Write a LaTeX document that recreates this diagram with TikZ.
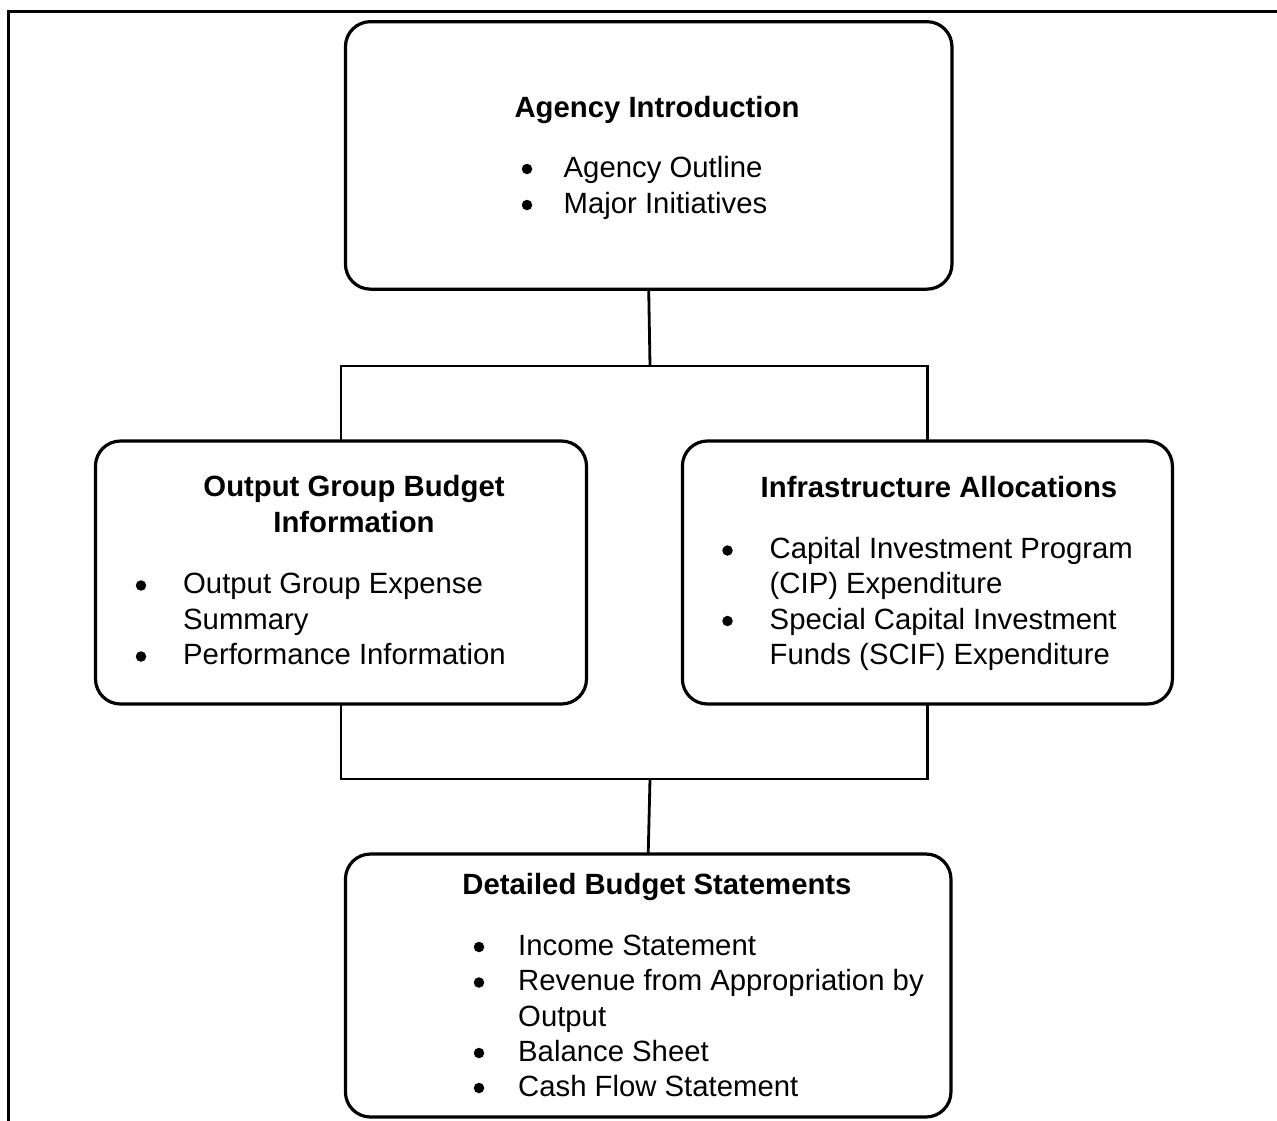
\documentclass[tikz,border=0pt]{standalone}
\usepackage{fontspec}
\setmainfont{Liberation Sans}
\begin{document}
\begin{tikzpicture}[x=1pt,y=-1pt,
  box/.style={draw,line width=3.2pt,rounded corners=25pt,inner sep=0pt,outer sep=0pt},
  link/.style={line width=2.8pt},
  head/.style={anchor=base,inner sep=0pt,font=\fontsize{29.3}{36}\selectfont\bfseries},
  item/.style={anchor=base west,inner sep=0pt,font=\fontsize{29.3}{36}\selectfont},
  dot/.style={circle,fill,inner sep=0pt,minimum size=10.5pt}]
\useasboundingbox (0,0) rectangle (1277,1120);
\begin{scope}
\clip (0,0) rectangle (1277,1120);
\draw[line width=3pt] (1300,11.5) -- (8.5,11.5) -- (8.5,1140);
\end{scope}

% boxes
\node[box,minimum width=606.5pt,minimum height=267.5pt] (intro) at (648.7,155.4) {};
\node[box,minimum width=491pt,minimum height=263pt] (output) at (341,572.5) {};
\node[box,minimum width=490pt,minimum height=263pt] (infra) at (927.4,572.5) {};
\node[box,minimum width=605.5pt,minimum height=263pt] (detail) at (648.2,985.5) {};

% connectors
\coordinate (ja) at (650,366);
\coordinate (jb) at (650,779);
\draw[link] (intro.south) -- (ja);
\draw[link] (output.north) -- (output.north |- ja) -- (infra.north |- ja) -- (infra.north);
\draw[link] (output.south) -- (output.south |- jb) -- (infra.south |- jb) -- (infra.south);
\draw[link] (jb) -- (detail.north);

% Agency Introduction
\node[head] (h1) at (657,117) {Agency Introduction};
\node[dot] (d11) at (527,169) {};
\node[item] (i11) at (563.5,177) {Agency Outline};
\node[dot] (d12) at (527,205) {};
\node[item] (i12) at (563.5,213) {Major Initiatives};

% Output Group Budget Information
\node[head] (h2a) at (354,496.5) {Output Group Budget};
\node[head] (h2b) at (354,532.5) {Information};
\node[dot] (d21) at (141,585.5) {};
\node[item] (i21) at (183,593.5) {Output Group Expense};
\node[item] (i22) at (183,629) {Summary};
\node[dot] (d22) at (141,656.5) {};
\node[item] (i23) at (183,664.5) {Performance Information};

% Infrastructure Allocations
\node[head] (h3) at (939,497) {Infrastructure Allocations};
\node[dot] (d31) at (727.5,550.5) {};
\node[item] (i31) at (769.5,558) {Capital Investment Program};
\node[item] (i32) at (769.5,593.5) {(CIP) Expenditure};
\node[dot] (d32) at (727.5,621) {};
\node[item] (i33) at (769.5,629) {Special Capital Investment};
\node[item] (i34) at (769.5,664) {Funds (SCIF) Expenditure};

% Detailed Budget Statements
\node[head] (h4) at (657,894) {Detailed Budget Statements};
\node[dot] (d41) at (479,947) {};
\node[item] (i41) at (518,955) {Income Statement};
\node[dot] (d42) at (479,982.5) {};
\node[item] (i42) at (518,990.5) {Revenue from Appropriation by};
\node[item] (i43) at (518,1026) {Output};
\node[dot] (d43) at (479,1053) {};
\node[item] (i44) at (518,1061) {Balance Sheet};
\node[dot] (d44) at (479,1088) {};
\node[item] (i45) at (518,1096) {Cash Flow Statement};
\end{tikzpicture}
\end{document}
